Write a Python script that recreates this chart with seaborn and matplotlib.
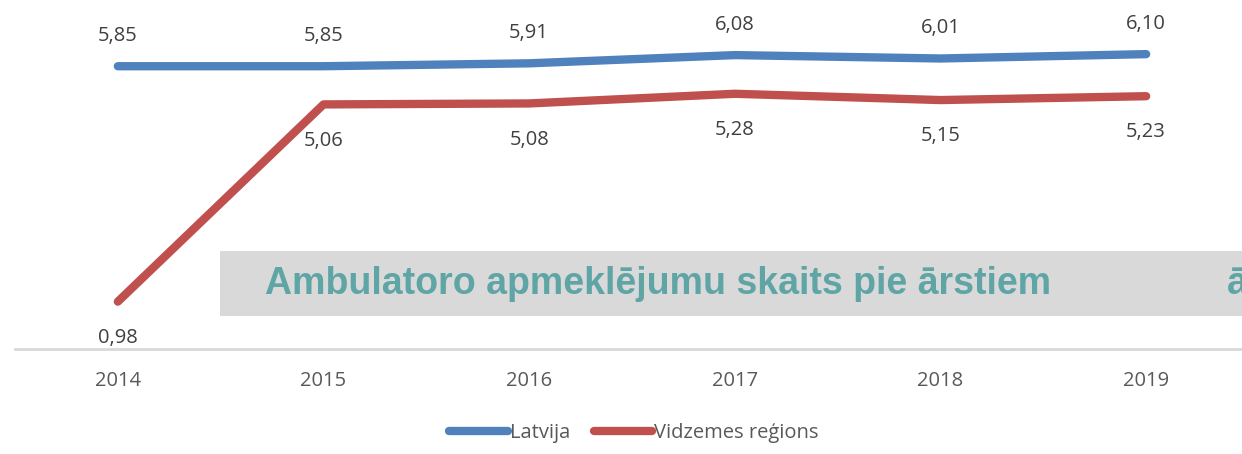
import matplotlib
matplotlib.use("Agg")
import matplotlib.pyplot as plt
import seaborn as sns
import pandas as pd
from matplotlib.patches import Rectangle
from matplotlib.lines import Line2D

years = ["2014", "2015", "2016", "2017", "2018", "2019"]
latvija = [5.85, 5.85, 5.91, 6.08, 6.01, 6.10]
vidzeme = [0.98, 5.06, 5.08, 5.28, 5.15, 5.23]
series_names = ["Latvija", "Vidzemes reģions"]
overlay_title = "Ambulatoro apmeklējumu skaits pie ārstiem"
overlay_cut = "ā"

sns.set_theme(style="white")
plt.rcParams['font.family'] = ['Open Sans', 'DejaVu Sans']

df = pd.DataFrame({
    "year": list(range(len(years))) * 2,
    "value": latvija + vidzeme,
    "series": [series_names[0]] * len(years) + [series_names[1]] * len(years),
})

colors = {series_names[0]: "#4F81BD", series_names[1]: "#C0504D"}

fig = plt.figure(figsize=(12.42, 4.54), dpi=100)
ax = fig.add_axes([15 / 1242, (454 - 349) / 454, 1234 / 1242, 349 / 454])

sns.lineplot(data=df, x="year", y="value", hue="series", palette=colors,
             linewidth=6, ax=ax, legend=False,
             solid_capstyle="round", solid_joinstyle="round")

ax.set_xlim(-0.5, 5.5)
ax.set_ylim(0, 7.22)
ax.set_xticks(range(len(years)))
ax.set_xticklabels(years, color="#595959", fontsize=14.5)
ax.tick_params(axis="x", length=0, pad=16)
ax.set_yticks([])
ax.set_xlabel("")
ax.set_ylabel("")
for s in ["top", "right", "left"]:
    ax.spines[s].set_visible(False)
ax.spines["bottom"].set_color("#D9D9D9")
ax.spines["bottom"].set_linewidth(2)

def fmt(v):
    return f"{v:.2f}".replace(".", ",")

for i, v in enumerate(latvija):
    ax.annotate(fmt(v), (i, v), xytext=(0, 22), textcoords="offset points",
                ha="center", va="center", fontsize=14.5, color="#404040")
for i, v in enumerate(vidzeme):
    ax.annotate(fmt(v), (i, v), xytext=(0, -26), textcoords="offset points",
                ha="center", va="center", fontsize=14.5, color="#404040")

# grey overlay banner
fig.patches.append(Rectangle((220 / 1242, (454 - 316) / 454), 1.0, 65 / 454,
                             transform=fig.transFigure, facecolor="#D9D9D9",
                             edgecolor="none", zorder=5))
fig.text(265 / 1242, (454 - 284) / 454, overlay_title, fontsize=27,
         fontweight="bold", color="#5FA5A5", family="Liberation Sans",
         ha="left", va="center", zorder=6)
fig.text(1227 / 1242, (454 - 284) / 454, overlay_cut, fontsize=27,
         fontweight="bold", color="#5FA5A5", family="Liberation Sans",
         ha="left", va="center", zorder=6)

handles = [Line2D([0], [0], color=colors[n], lw=6, solid_capstyle="round")
           for n in series_names]
fig.legend(handles, series_names, loc="center", bbox_to_anchor=(634 / 1242, (454 - 433) / 454),
           ncol=2, frameon=False, fontsize=14.5, handlelength=2.9, handletextpad=0.1,
           columnspacing=1.2, labelcolor="#595959")

fig.savefig("out.png", dpi=100)
